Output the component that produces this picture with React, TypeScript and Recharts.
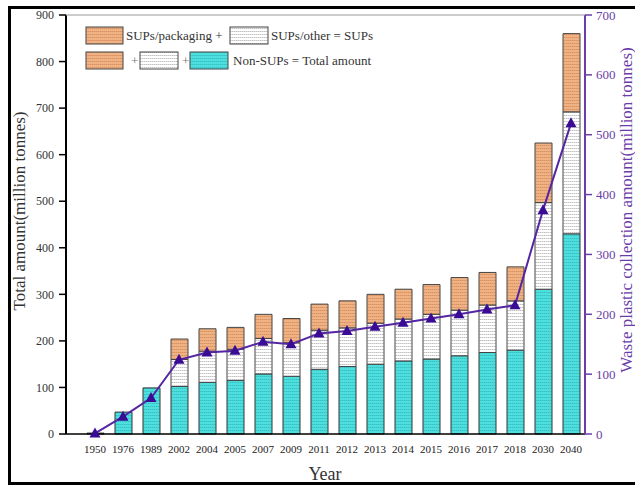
import React from 'react';
import { ComposedChart, Bar, Line, XAxis, YAxis } from 'recharts';

const years = ['1950', '1976', '1989', '2002', '2004', '2005', '2007', '2009', '2011', '2012', '2013', '2014', '2015', '2016', '2017', '2018', '2030', '2040'];
const nonSups = [2, 47, 99, 102, 111, 115, 129, 124, 139, 145, 150, 157, 161, 168, 175, 180, 311, 430];
const supsOther = [0, 0, 0, 58, 67, 67, 76, 72, 84, 83, 88, 90, 96, 98, 102, 106, 186, 262];
const supsPackaging = [0, 0, 0, 44, 48, 47, 52, 52, 56, 58, 62, 64, 64, 70, 70, 73, 128, 168];
const collection = [1, 29, 60, 124, 136, 139, 154, 150, 168, 172, 179, 186, 193, 200, 208, 215, 374, 519];

const leftTicks = [0, 100, 200, 300, 400, 500, 600, 700, 800, 900];
const leftMinorTicks = [50, 150, 250, 350, 450, 550, 650, 750, 850];
const rightTicks = [0, 100, 200, 300, 400, 500, 600, 700];
const rightMinorTicks = [50, 150, 250, 350, 450, 550, 650];
const boundaryTicks = years.map((_, i) => i - 0.5);

const data = years.map((y, i) => ({
  year: y,
  idx: i,
  nonSups: nonSups[i],
  other: supsOther[i],
  packaging: supsPackaging[i],
  collection: collection[i],
}));

const PURPLE = '#6A3DA8';
const LINE = '#5426A2';
const MARK = '#3A0C96';
const FONT = '"Liberation Serif", "Times New Roman", serif';

const Tri = (props: any) => {
  const { cx, cy, index } = props;
  if (cx == null || cy == null) return null;
  return (
    <polygon
      key={`tri-${index}`}
      points={`${cx},${cy - 6} ${cx - 5.5},${cy + 4} ${cx + 5.5},${cy + 4}`}
      fill={MARK}
    />
  );
};

export default function App() {
  return (
    <div style={{ position: 'absolute', left: 0, top: 0, width: 635, height: 485, background: '#fff', fontFamily: FONT, overflow: 'hidden' }}>
      <ComposedChart width={635} height={485} data={data} margin={{ top: 15, right: 0, bottom: 0, left: 0 }}>
        <defs>
          <pattern id="pPack" width="4" height="3" patternUnits="userSpaceOnUse">
            <rect width="4" height="3" fill="#F0B283" />
            <line x1="0" y1="1.5" x2="4" y2="1.5" stroke="#D0895A" strokeWidth="0.8" strokeDasharray="1.5 0.5" />
          </pattern>
          <pattern id="pOther" width="4" height="3" patternUnits="userSpaceOnUse">
            <rect width="4" height="3" fill="#FFFFFF" />
            <line x1="0" y1="1.5" x2="4" y2="1.5" stroke="#B0B0B0" strokeWidth="0.8" strokeDasharray="1.5 0.5" />
          </pattern>
          <pattern id="pCyan" width="4" height="3" patternUnits="userSpaceOnUse">
            <rect width="4" height="3" fill="#4CDFDD" />
            <line x1="0" y1="1.5" x2="4" y2="1.5" stroke="#33B9BE" strokeWidth="0.8" strokeDasharray="1.5 0.5" />
          </pattern>
        </defs>
        <XAxis
          xAxisId="bounds"
          type="number"
          dataKey="idx"
          domain={[-29 / 28, 17.5]}
          ticks={boundaryTicks}
          height={0}
          tick={false}
          tickSize={5}
          tickLine={{ stroke: '#000', strokeWidth: 1.2 }}
          axisLine={false}
          allowDataOverflow
        />
        <XAxis
          xAxisId="cat"
          dataKey="year"
          padding={{ left: 15, right: 0 }}
          height={51}
          interval={0}
          tickLine={false}
          tickSize={5}
          tickMargin={6}
          axisLine={{ stroke: '#000', strokeWidth: 1.6 }}
          tick={{ fontSize: 11, fill: '#222', fontFamily: FONT }}
        />
        <YAxis
          yAxisId="leftMinor"
          domain={[0, 900]}
          ticks={leftMinorTicks}
          width={0}
          tick={false}
          tickSize={4}
          axisLine={false}
          tickLine={{ stroke: '#000', strokeWidth: 1.2 }}
        />
        <YAxis
          yAxisId="left"
          domain={[0, 900]}
          ticks={leftTicks}
          width={66}
          tickSize={7}
          tickMargin={5}
          axisLine={{ stroke: '#000', strokeWidth: 2 }}
          tickLine={{ stroke: '#000', strokeWidth: 1.5 }}
          tick={{ fontSize: 12, fill: '#333', fontFamily: FONT }}
        />
        <YAxis
          yAxisId="rightMinor"
          orientation="right"
          domain={[0, 700]}
          ticks={rightMinorTicks}
          width={0}
          tick={false}
          tickSize={4}
          axisLine={false}
          tickLine={{ stroke: PURPLE, strokeWidth: 1.2 }}
        />
        <YAxis
          yAxisId="right"
          orientation="right"
          domain={[0, 700]}
          ticks={rightTicks}
          width={50}
          tickSize={7}
          tickMargin={4}
          axisLine={{ stroke: PURPLE, strokeWidth: 2 }}
          tickLine={{ stroke: PURPLE, strokeWidth: 1.5 }}
          tick={{ fontSize: 13, fill: PURPLE, fontFamily: FONT }}
        />
        <Bar xAxisId="cat" yAxisId="left" dataKey="nonSups" stackId="a" barSize={17} fill="url(#pCyan)" stroke="#333" strokeWidth={1} isAnimationActive={false} />
        <Bar xAxisId="cat" yAxisId="left" dataKey="other" stackId="a" barSize={17} fill="url(#pOther)" stroke="#444" strokeWidth={1} isAnimationActive={false} />
        <Bar xAxisId="cat" yAxisId="left" dataKey="packaging" stackId="a" barSize={17} fill="url(#pPack)" stroke="#444" strokeWidth={1} isAnimationActive={false} />
        <Line xAxisId="cat" yAxisId="right" dataKey="collection" stroke={LINE} strokeWidth={2} dot={<Tri />} activeDot={false} isAnimationActive={false} />
      </ComposedChart>
      <svg width={635} height={485} style={{ position: 'absolute', left: 0, top: 0, pointerEvents: 'none' }}>
        <line x1={66} y1={15} x2={585} y2={15} stroke="#999" strokeWidth={1.2} />
        <line x1={9.5} y1={6} x2={9.5} y2={485} stroke="#000" strokeWidth={3} />
        <line x1={8} y1={7.5} x2={635} y2={7.5} stroke="#000" strokeWidth={3} />
        <line x1={8} y1={483.5} x2={635} y2={483.5} stroke="#000" strokeWidth={3} />
        <g fontFamily={FONT} fontSize={13} fill="#333">
          <rect x={86} y={27} width={37} height={17} fill="url(#pPack)" stroke="#444" strokeWidth={1} />
          <text x={126} y={40}>SUPs/packaging +</text>
          <rect x={230} y={27} width={38} height={17} fill="url(#pOther)" stroke="#444" strokeWidth={1} />
          <text x={271} y={40}>SUPs/other = SUPs</text>
          <rect x={86} y={52} width={37} height={17} fill="url(#pPack)" stroke="#444" strokeWidth={1} />
          <text x={131} y={65} fill="#777">+</text>
          <rect x={140} y={52} width={38} height={17} fill="url(#pOther)" stroke="#444" strokeWidth={1} />
          <text x={182} y={65} fill="#777">+</text>
          <rect x={190} y={52} width={38} height={17} fill="url(#pCyan)" stroke="#444" strokeWidth={1} />
          <text x={233} y={65}>Non-SUPs = Total amount</text>
        </g>
        <text transform="translate(25,211) rotate(-90)" textAnchor="middle" fontFamily={FONT} fontSize={17} fill="#333">
          Total amount(million tonnes)
        </text>
        <text transform="translate(632,210) rotate(-90)" textAnchor="middle" fontFamily={FONT} fontSize={17} fill={PURPLE}>
          Waste plastic collection amount(million tonnes)
        </text>
        <text x={325} y={480} textAnchor="middle" fontFamily={FONT} fontSize={18} fill="#333">
          Year
        </text>
      </svg>
    </div>
  );
}
